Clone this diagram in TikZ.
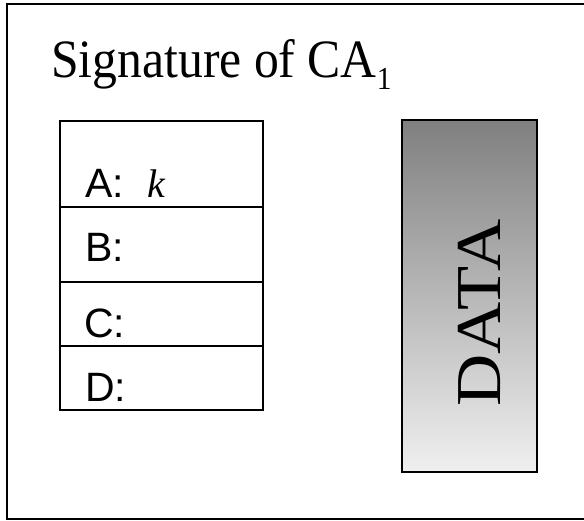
\documentclass[tikz,border=0pt]{standalone}
\usepackage{fontspec}
\setmainfont{Liberation Serif}
\newfontfamily\labelfont{Liberation Sans}
\begin{document}
\begin{tikzpicture}[x=1pt,y=-1pt,
  frameline/.style={line width=1.6pt,black},
  rowline/.style={line width=1.2pt,black},
  rowlabel/.style={anchor=base west,inner sep=0pt,font=\labelfont\fontsize{41}{43}\selectfont}]
\useasboundingbox (0,0) rectangle (584,521);
% outer frame (right side lies outside the image)
\draw[frameline] (592,4) -- (7,4) -- (7,519) -- (592,519);
% title
\node[anchor=base west,inner sep=0pt,font=\fontsize{54}{58}\selectfont] (title) at (51,78)
  {\scalebox{0.92}[1]{Signature of CA\raisebox{-12pt}{\fontsize{32}{34}\selectfont 1}}};
% signature table
\draw[rowline] (60,121) rectangle (263,410);
\draw[rowline] (60,207) -- (263,207);
\draw[rowline] (60,282) -- (263,282);
\draw[rowline] (60,346) -- (263,346);
\node[rowlabel] (la) at (85,198) {A:};
\node[anchor=base west,inner sep=0pt,font=\fontsize{40}{42}\selectfont\itshape] (lk) at (147,198) {k};
\node[rowlabel] (lb) at (85,262) {B:};
\node[rowlabel] (lc) at (84,338) {C:};
\node[rowlabel] (ld) at (85,402) {D:};
% data block
\shade[top color=black!50,bottom color=black!6,middle color=black!28] (402,120) rectangle (537,472);
\draw[rowline] (402,120) rectangle (537,472);
\node[rotate=90,anchor=base,inner sep=0pt,font=\fontsize{64}{66}\selectfont] (data) at (500,313) {\scalebox{1.13}[1]{DATA}};
\end{tikzpicture}
\end{document}
